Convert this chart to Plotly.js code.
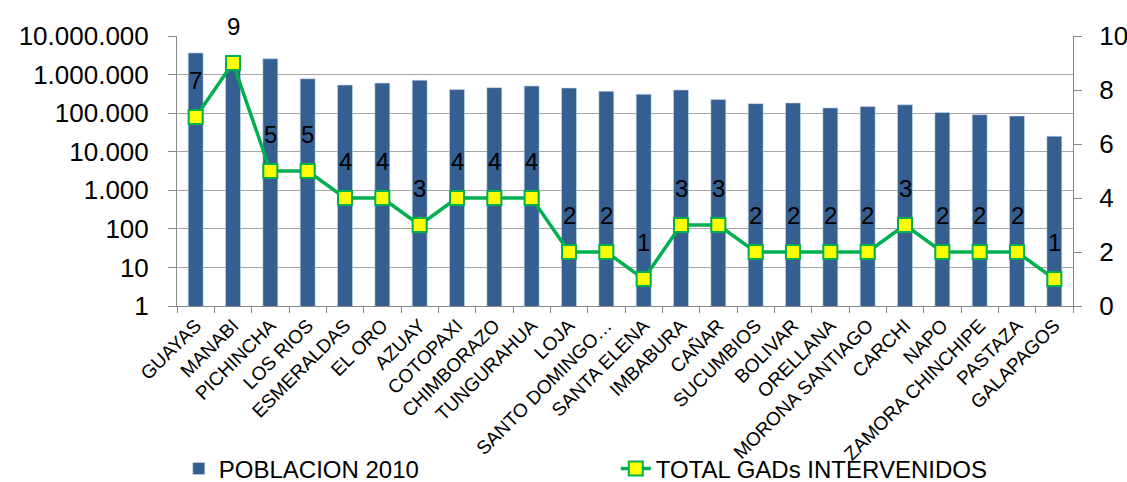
<!DOCTYPE html>
<html>
<head>
<meta charset="utf-8">
<script src="https://cdn.plot.ly/plotly-3.0.1.min.js"></script>
<style>html,body{margin:0;padding:0;background:#fff;}#chart{width:1127px;height:482px;}</style>
</head>
<body>
<div id="chart"></div>
<script>
const provincias = ["GUAYAS","MANABI","PICHINCHA","LOS RIOS","ESMERALDAS","EL ORO","AZUAY","COTOPAXI","CHIMBORAZO","TUNGURAHUA","LOJA","SANTO DOMINGO…","SANTA ELENA","IMBABURA","CAÑAR","SUCUMBIOS","BOLIVAR","ORELLANA","MORONA SANTIAGO","CARCHI","NAPO","ZAMORA CHINCHIPE","PASTAZA","GALAPAGOS"];
const poblacion2010 = [3645483,1369780,2576287,778115,534092,600659,712127,409205,458581,504583,448966,368013,308693,398244,225184,176472,183641,136396,147940,164524,103697,91376,83933,25124];
const gadsIntervenidos = [7,9,5,5,4,4,3,4,4,4,2,2,1,3,3,2,2,2,2,3,2,2,2,1];
const leftTickVals = [1,10,100,1000,10000,100000,1000000,10000000];
const leftTickText = ["1","10","100","1.000","10.000","100.000","1.000.000","10.000.000"];

const FONT = "Liberation Sans, Arial, sans-serif";

const traces = [
  {
    type: "bar", name: "POBLACION 2010",
    x: provincias, y: poblacion2010,
    marker: {color: "#365F91", line: {color: "#C5D5EA", width: 0.6}},
    yaxis: "y", xaxis: "x"
  },
  {
    type: "scatter", mode: "lines+markers", name: "TOTAL GADs INTERVENIDOS",
    x: provincias, y: gadsIntervenidos,
    yaxis: "y2", xaxis: "x",
    line: {color: "#00B050", width: 3.5},
    marker: {symbol: "square", size: 14, color: "#FFFF00", line: {color: "#00B050", width: 2}}
  }
];

const annotations = provincias.map((p, i) => ({
  x: p, y: gadsIntervenidos[i], xref: "x", yref: "y2",
  text: String(gadsIntervenidos[i]), showarrow: false,
  yshift: 37, yanchor: "middle",
  font: {family: FONT, size: 24, color: "#000"}
}));

const layout = {
  width: 1127, height: 482,
  margin: {l: 177, r: 54, t: 36, b: 176, pad: 0, autoexpand: false},
  paper_bgcolor: "#fff", plot_bgcolor: "#fff",
  font: {family: FONT, color: "#000"},
  bargap: 0.6,
  showlegend: true,
  legend: {
    orientation: "h", x: 0.002, xanchor: "left", y: -0.52, yanchor: "top",
    font: {family: FONT, size: 24, color: "#000"},
    entrywidth: 392, entrywidthmode: "pixels",
    bgcolor: "rgba(0,0,0,0)"
  },
  xaxis: {
    type: "category", tickangle: -45, range: [-0.5, 23.5], autorange: false,
    tickfont: {family: FONT, size: 19, color: "#000"},
    ticks: "outside", tickson: "boundaries", ticklen: 6, tickcolor: "#888",
    showline: true, linecolor: "#888", linewidth: 1,
    showgrid: false, zeroline: false, automargin: false
  },
  yaxis: {
    type: "log", range: [0, 7],
    tickvals: leftTickVals, ticktext: leftTickText,
    tickfont: {family: FONT, size: 26, color: "#000"},
    ticks: "outside", ticklen: 8, tickcolor: "#888", ticklabelstandoff: 14,
    showline: true, linecolor: "#888", linewidth: 1,
    showgrid: true, gridcolor: "#A6A6A6", gridwidth: 1,
    zeroline: false, automargin: false
  },
  yaxis2: {
    overlaying: "y", side: "right", range: [0, 10], dtick: 2, tick0: 0,
    tickfont: {family: FONT, size: 26, color: "#000"},
    ticks: "outside", ticklen: 8, tickcolor: "#888", ticklabelstandoff: 12,
    showline: true, linecolor: "#888", linewidth: 1,
    showgrid: false, zeroline: false, automargin: false
  },
  annotations: annotations
};

Plotly.newPlot("chart", traces, layout, {displayModeBar: false, staticPlot: true});
</script>
</body>
</html>
